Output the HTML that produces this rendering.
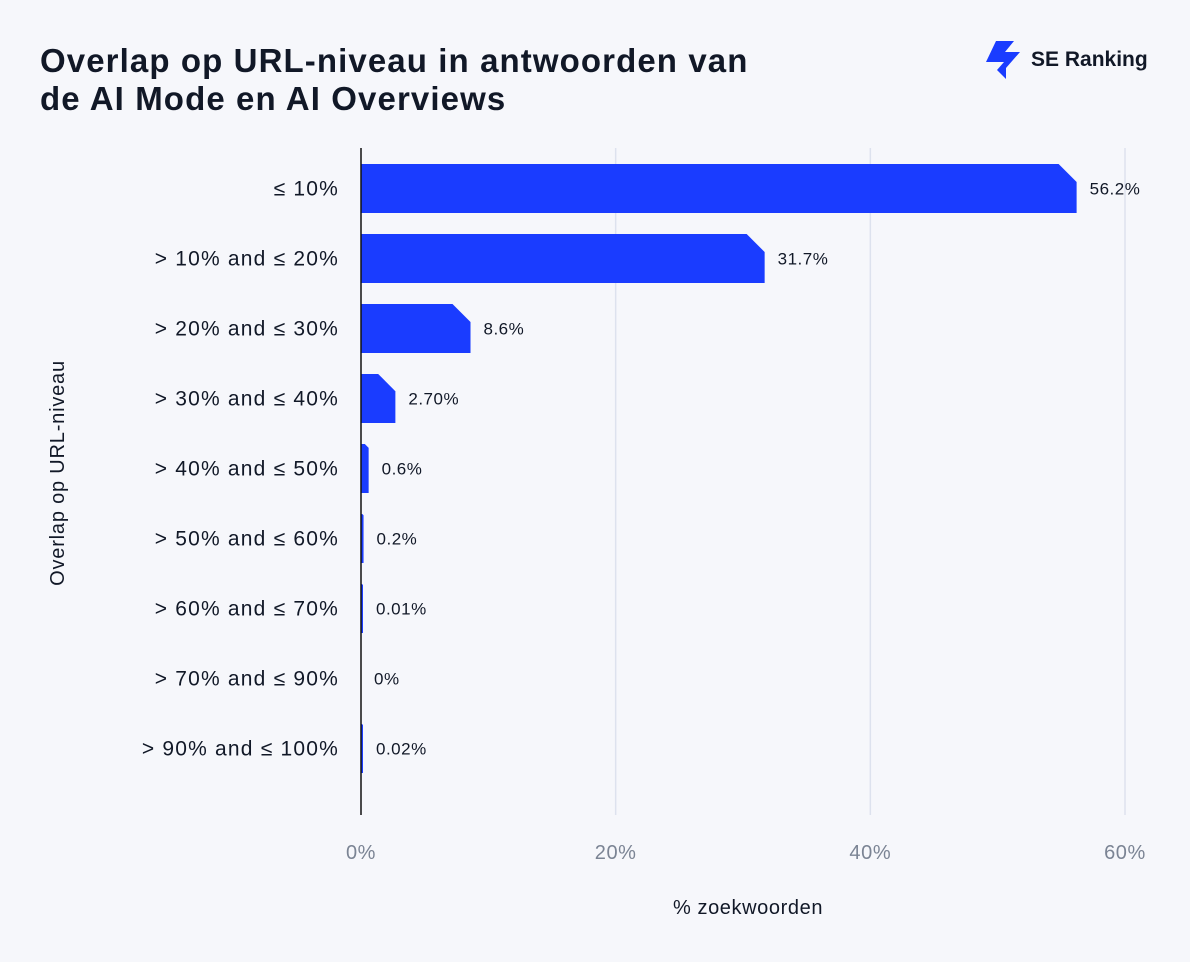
<!DOCTYPE html>
<html><head><meta charset="utf-8"><style>
body{margin:0;background:#f6f7fb;font-family:"Liberation Sans",sans-serif;}
svg{display:block}
</style></head><body>
<svg width="1190" height="962" viewBox="0 0 1190 962" id="chart">
<rect width="1190" height="962" fill="#f6f7fb"/>
<text x="40" y="72" font-size="33" font-weight="bold" letter-spacing="1.1" fill="#111827">Overlap op URL-niveau in antwoorden van</text>
<text x="40" y="110" font-size="33" font-weight="bold" letter-spacing="1.1" fill="#111827">de AI Mode en AI Overviews</text>
<g>
<path d="M996 41 L1014 41 L1005 52 L1020 52 L1006 68 L1006 79 L997 70 L1004 62 L986 62 Z" fill="#1a3cff"/>
<text x="1031" y="66" font-size="21" font-weight="bold" fill="#111827">SE Ranking</text>
</g>
<g id="grid"></g>
<g id="bars"></g>
<line x1="361" y1="148" x2="361" y2="815" stroke="#111" stroke-width="1.5"/>
<text x="748" y="914" font-size="20" letter-spacing="0.6" text-anchor="middle" fill="#111827">% zoekwoorden</text>
<text transform="translate(64,473) rotate(-90)" font-size="20" letter-spacing="0.8" text-anchor="middle" fill="#111827">Overlap op URL-niveau</text>
</svg>
<script>
const categories=["≤ 10%","> 10% and ≤ 20%","> 20% and ≤ 30%","> 30% and ≤ 40%","> 40% and ≤ 50%","> 50% and ≤ 60%","> 60% and ≤ 70%","> 70% and ≤ 90%","> 90% and ≤ 100%"];
const values=[56.2,31.7,8.6,2.7,0.6,0.2,0.01,0,0.02];
const valueLabels=["56.2%","31.7%","8.6%","2.70%","0.6%","0.2%","0.01%","0%","0.02%"];
const ticks=[0,20,40,60];
const tickLabels=["0%","20%","40%","60%"];
const NS="http://www.w3.org/2000/svg";
const x=v=>361+v*(1125-361)/60;
const y=i=>164+i*70;
const H=49;
const grid=document.getElementById('grid'),bars=document.getElementById('bars');
ticks.forEach((t,i)=>{
 if(t>0){const l=document.createElementNS(NS,'line');
 l.setAttribute('x1',x(t));l.setAttribute('x2',x(t));l.setAttribute('y1',148);l.setAttribute('y2',815);
 l.setAttribute('stroke','#dde2ee');l.setAttribute('stroke-width','1.5');
 
 
 grid.appendChild(l);}
 const tx=document.createElementNS(NS,'text');
 tx.setAttribute('x',x(t));tx.setAttribute('y',859);tx.setAttribute('font-size','20');tx.setAttribute('text-anchor','middle');tx.setAttribute('fill','#7b8494');tx.setAttribute('letter-spacing','0.6');
 tx.textContent=tickLabels[i];
 
 
 grid.appendChild(tx);
});
categories.forEach((c,i)=>{
 const x0=361,x1=Math.max(x(values[i]),values[i]>0?x0+2:x0),top=y(i),bot=top+H;
 const w=x1-x0,ch=Math.min(18,w*0.5);
 if(values[i]>0){
 const p=document.createElementNS(NS,'path');
 p.setAttribute('d',`M${x0} ${top} L${x1-ch} ${top} L${x1} ${top+ch} L${x1} ${bot} L${x0} ${bot} Z`);
 p.setAttribute('fill','#1a3cff');
 
 
 bars.appendChild(p);}
 const vl=document.createElementNS(NS,'text');
 vl.setAttribute('x',x1+13);vl.setAttribute('y',top+H/2+6);vl.setAttribute('font-size','17');vl.setAttribute('fill','#111827');vl.setAttribute('letter-spacing','0.5');
 vl.textContent=valueLabels[i];
 
 
 bars.appendChild(vl);
 const cl=document.createElementNS(NS,'text');
 cl.setAttribute('x',339);cl.setAttribute('y',top+H/2+7);cl.setAttribute('font-size','21');cl.setAttribute('text-anchor','end');cl.setAttribute('fill','#111827');cl.setAttribute('letter-spacing','1.2');
 cl.textContent=c;
 
 
 bars.appendChild(cl);
});
</script>
</body></html>
